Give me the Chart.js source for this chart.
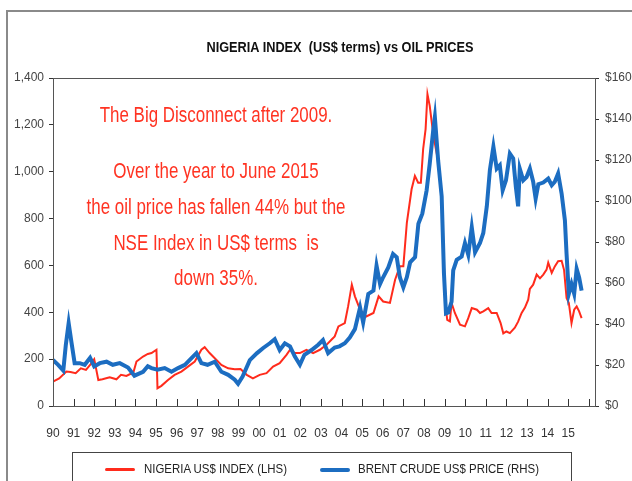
<!DOCTYPE html>
<html lang="en">
<head>
    <meta charset="UTF-8">
    <title>Nigeria Index vs Oil Prices</title>
    <script src="https://cdn.jsdelivr.net/npm/chart.js"></script>
    <style>
        body { margin: 0; background: #fff; }
        .wrap { position: relative; width: 632px; height: 481px; overflow: hidden; }
        .frame {
            position: absolute; left: 6px; top: 10px; width: 700px; height: 600px;
            border-top: 2px solid #8a8a8a; border-left: 2px solid #8a8a8a;
        }
        canvas { position: absolute; left: 0; top: 0; }
        .narrow { font-family: 'Liberation Sans Narrow', 'Arial Narrow', 'Liberation Sans', Arial, sans-serif; }
        .title {
            position: absolute; left: 340px; top: 46px; transform: translate(-50%, -50%) scaleX(0.85);
            font-size: 15px; font-weight: bold; color: #111; white-space: pre;
        }
        .note {
            position: absolute; left: 216px; transform: translateX(-50%) scaleX(0.77);
            color: #ff3322; font-size: 22px; white-space: nowrap; text-align: center;
        }
        .legend {
            position: absolute; left: 72px; top: 452px; width: 500px; height: 60px;
            border: 1px solid #444; box-sizing: border-box;
        }
        .legend span {
            position: absolute; top: 8px; font-size: 13px; color: #222;
            transform: scaleX(0.88); transform-origin: 0 50%; white-space: nowrap;
        }
        .legend i { position: absolute; top: 15px; height: 4px; width: 30px; border-radius: 2px; }
    </style>
</head>
<body>
<div class="wrap">
    <div class="frame"></div>
    <canvas id="chart" width="632" height="481"></canvas>
    <div class="title narrow">NIGERIA INDEX  (US$ terms) vs OIL PRICES</div>
    <div class="note narrow" style="top:102px">The Big Disconnect after 2009.</div>
    <div class="note narrow" style="top:158px">Over the year to June 2015</div>
    <div class="note narrow" style="top:194px">the oil price has fallen 44% but the</div>
    <div class="note narrow" style="top:230px">NSE Index in US$ terms&nbsp; is</div>
    <div class="note narrow" style="top:265px">down 35%.</div>
    <div class="legend narrow">
        <i style="left:32px; background:#ff2b1c; height:3px;"></i>
        <span style="left:71px">NIGERIA US$ INDEX (LHS)</span>
        <i style="left:247px; background:#1c6dc1;"></i>
        <span style="left:285px">BRENT CRUDE US$ PRICE (RHS)</span>
    </div>
</div>

<script>
    // x-axis tick labels, one per year 1990..2015
    const yearLabels = ['90','91','92','93','94','95','96','97','98','99','00','01','02','03',
        '04','05','06','07','08','09','10','11','12','13','14','15'];

    // Nigeria US$ index (left axis)
    const nigYears = [1990.0,1990.3,1990.65,1990.85,1991.1,1991.35,1991.6,1991.8,1992.0,1992.2,
        1992.4,1992.75,1993.08,1993.3,1993.56,1993.9,1994.05,1994.37,1994.6,1994.78,1995.02,1995.07,
        1995.26,1995.58,1995.9,1996.23,1996.55,1996.88,1997.2,1997.36,1997.6,1997.85,1998.17,1998.5,
        1998.82,1999.1,1999.4,1999.7,2000.03,2000.36,2000.68,2001.0,2001.33,2001.5,2001.73,2001.98,
        2002.3,2002.62,2002.95,2003.27,2003.51,2003.67,2003.85,2004.16,2004.32,2004.5,2004.65,2004.9,
        2005.2,2005.55,2005.8,2006.02,2006.35,2006.6,2006.83,2007.0,2007.17,2007.4,2007.56,2007.72,
        2007.85,2007.96,2008.08,2008.17,2008.28,2008.4,2008.55,2008.7,2008.86,2008.97,2009.07,2009.13,
        2009.26,2009.34,2009.5,2009.75,2009.99,2010.15,2010.32,2010.57,2010.72,2010.88,2011.12,2011.28,
        2011.53,2011.72,2011.85,2012.0,2012.17,2012.41,2012.57,2012.74,2012.9,2013.06,2013.14,2013.3,
        2013.47,2013.63,2013.79,2013.95,2014.03,2014.2,2014.35,2014.51,2014.68,2014.8,2014.92,2015.03,
        2015.16,2015.29,2015.41,2015.53,2015.65];
    const nigIndex = [104,118,147,145,140,161,154,175,200,111,
        114,123,114,133,128,143,190,211,222,226,240,76,
        86,111,133,147,168,190,240,251,226,204,175,161,
        157,158,133,118,133,140,168,183,218,240,226,226,
        240,226,240,261,283,297,340,354,425,518,468,411,
        382,397,468,446,440,539,596,596,782,925,982,953,
        953,1096,1182,1331,1281,1196,1110,1040,880,600,411,368,
        361,440,397,347,340,375,418,411,397,404,418,397,
        397,354,310,318,311,334,360,397,420,454,500,518,
        561,545,561,582,612,568,596,618,620,580,461,440,
        354,411,425,404,375];

    // Brent crude US$ price (right axis)
    const brentYears = [1990.0,1990.25,1990.5,1990.62,1990.76,1990.9,1991.05,1991.3,1991.54,1991.8,
        1992.0,1992.27,1992.6,1992.9,1993.24,1993.64,1993.95,1994.37,1994.6,1994.78,1995.07,1995.42,
        1995.75,1996.07,1996.4,1996.72,1996.96,1997.2,1997.5,1997.85,1998.17,1998.5,1998.82,1998.98,
        1999.2,1999.55,1999.9,2000.2,2000.52,2000.76,2001.0,2001.25,2001.5,2001.73,2001.98,2002.2,
        2002.55,2002.87,2003.1,2003.35,2003.67,2003.9,2004.16,2004.4,2004.65,2004.9,2005.05,2005.3,
        2005.55,2005.7,2005.87,2006.02,2006.27,2006.5,2006.68,2006.83,2007.0,2007.17,2007.33,2007.57,
        2007.73,2007.92,2008.13,2008.28,2008.45,2008.53,2008.69,2008.86,2008.97,2009.07,2009.18,2009.34,
        2009.42,2009.59,2009.83,2009.99,2010.15,2010.32,2010.48,2010.72,2010.88,2011.05,2011.2,2011.37,
        2011.53,2011.68,2011.82,2011.98,2012.17,2012.33,2012.46,2012.57,2012.65,2012.82,2012.98,2013.14,
        2013.3,2013.42,2013.55,2013.79,2014.03,2014.2,2014.35,2014.51,2014.68,2014.84,2014.92,2015.03,
        2015.16,2015.29,2015.41,2015.53,2015.65];
    const brentPrice = [22.4,20.1,17.3,29.6,40.4,30.8,20.9,20.9,20.1,23.5,
        19.3,20.9,21.6,20.1,20.9,18.8,14.8,16.7,19.4,18.5,17.7,18.5,
        16.7,18.5,20.1,23.4,25.8,20.9,20.1,21.6,16.7,15.2,12.8,10.8,
        14.4,22.4,25.8,28.3,30.6,32.6,27.3,30.6,29.1,24.2,20.1,25.0,
        27.3,29.9,32.2,25.8,28.5,29.1,30.6,33.4,37.5,48.1,40.8,54.7,
        56.3,68.5,59.5,62.8,67.6,74.2,72.6,62.8,57.9,62.8,70.1,72.6,
        88.9,93.8,105.2,118.2,134.5,140.9,119.6,102.3,64.8,45.2,45.6,50.9,
        66.1,71.3,72.9,79.5,73.8,87.2,75.0,79.5,84.4,97.4,115.1,126.5,
        115.8,117.4,105.2,110.1,123.1,120.8,106.8,97.4,115.8,110.1,111.7,115.8,
        109.4,101.1,108.2,109.0,110.9,107.7,109.4,113.4,103.6,90.5,74.2,54.7,
        59.5,54.7,66.9,62.7,56.3];

    const narrow = "'Liberation Sans Narrow', 'Arial Narrow', 'Liberation Sans', Arial, sans-serif";
    const axisColor = '#333';

    // inside tick marks on the x axis + box round the plot
    const framePlugin = {
        id: 'frame',
        afterDraw(chart) {
            const { ctx, chartArea: a, scales } = chart;
            ctx.save();
            ctx.strokeStyle = axisColor;
            ctx.lineWidth = 1;
            ctx.beginPath();
            scales.x.ticks.forEach(t => {
                const px = Math.round(scales.x.getPixelForValue(t.value)) + 0.5;
                ctx.moveTo(px, a.bottom);
                ctx.lineTo(px, a.bottom - 7);
            });
            ctx.stroke();
            ctx.strokeStyle = '#555';
            ctx.strokeRect(Math.round(a.left) + 0.5, Math.round(a.top) + 0.5, Math.round(a.width), Math.round(a.height));
            ctx.restore();
        }
    };

    new Chart(document.getElementById('chart'), {
        type: 'line',
        data: {
            datasets: [{
                label: 'NIGERIA US$ INDEX (LHS)',
                data: nigYears.map((x, i) => ({ x, y: nigIndex[i] })),
                borderColor: '#ff2b1c',
                borderWidth: 2,
                pointRadius: 0,
                yAxisID: 'y',
                order: 2
            }, {
                label: 'BRENT CRUDE US$ PRICE (RHS)',
                data: brentYears.map((x, i) => ({ x, y: brentPrice[i] })),
                borderColor: '#1c6dc1',
                borderWidth: 4,
                pointRadius: 0,
                yAxisID: 'y1',
                order: 1
            }]
        },
        options: {
            responsive: false,
            animation: false,
            layout: { padding: { top: 78, bottom: 40, left: 0, right: 0 } },
            plugins: { legend: { display: false }, tooltip: { enabled: false } },
            scales: {
                x: {
                    type: 'linear',
                    min: 1990,
                    max: 2016.3,
                    afterBuildTicks: s => {
                        s.ticks = yearLabels.map((_, i) => ({ value: 1990 + i })).concat([{ value: 2016 }]);
                    },
                    afterFit: s => { s.height = 35; },
                    grid: { drawOnChartArea: false, drawTicks: false },
                    border: { display: true, color: axisColor },
                    ticks: {
                        autoSkip: false,
                        maxRotation: 0,
                        padding: 20,
                        color: '#333',
                        font: { family: narrow, size: 12 },
                        callback: v => yearLabels[Math.round(v) - 1990] || ''
                    }
                },
                y: {
                    position: 'left',
                    min: 0,
                    max: 1400,
                    afterFit: s => { s.width = 53; },
                    grid: { drawOnChartArea: false, tickLength: 4, color: axisColor },
                    border: { display: true, color: axisColor },
                    ticks: {
                        stepSize: 200,
                        padding: 5,
                        color: '#444',
                        font: { family: narrow, size: 12 },
                        callback: v => v.toLocaleString('en-US')
                    }
                },
                y1: {
                    position: 'right',
                    min: 0,
                    max: 160,
                    afterFit: s => { s.width = 37; },
                    grid: { drawOnChartArea: false, tickLength: 4, color: axisColor },
                    border: { display: true, color: axisColor },
                    ticks: {
                        stepSize: 20,
                        padding: 6,
                        color: '#444',
                        font: { family: narrow, size: 12 },
                        callback: v => '$' + v
                    }
                }
            }
        },
        plugins: [framePlugin]
    });
</script>
</body>
</html>
